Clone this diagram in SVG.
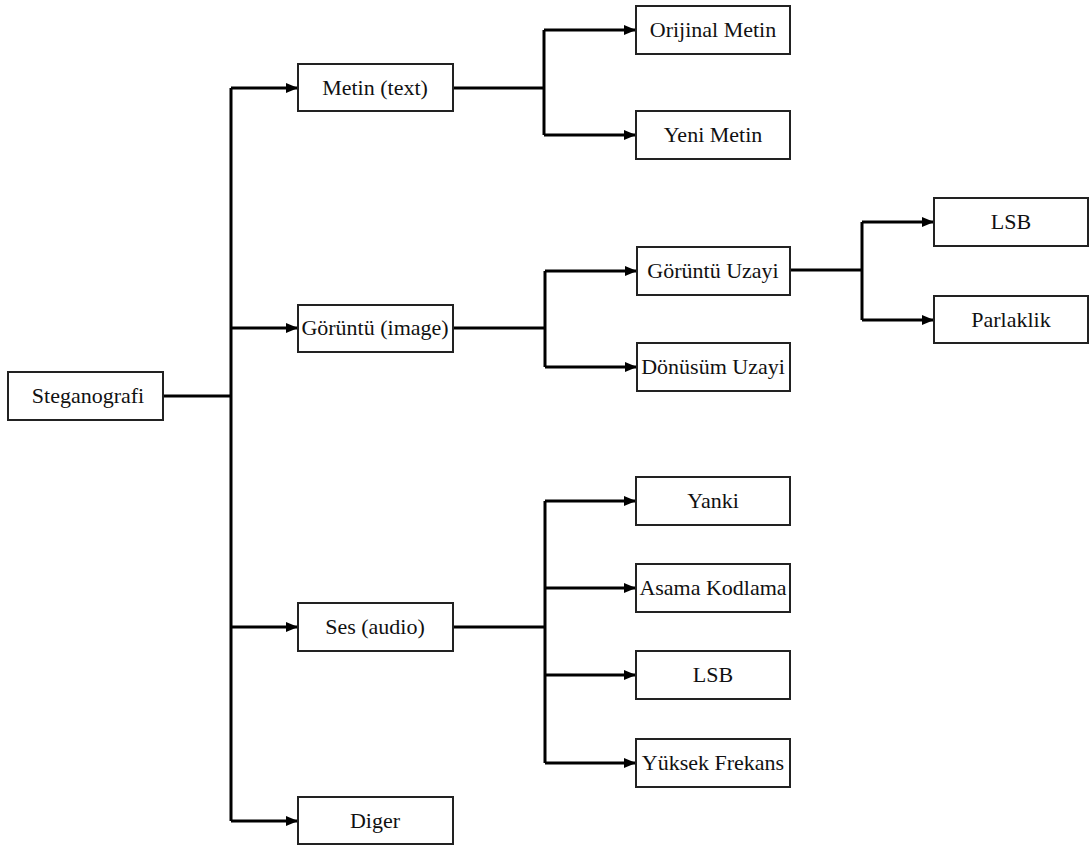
<svg xmlns="http://www.w3.org/2000/svg" width="1091" height="845" viewBox="0 0 1091 845">
<style>
.box{fill:#fff;stroke:#222;stroke-width:2}
.lbl{font-family:'Liberation Serif','Times New Roman',Times,serif;font-size:22px;fill:#111;text-anchor:middle}
.c{fill:none;stroke:#000;stroke-width:3}
</style>
<defs>
<marker id="ah" markerWidth="12" markerHeight="10" refX="11" refY="5" orient="auto" markerUnits="userSpaceOnUse">
<path d="M0,0 L12,5 L0,10 Z" fill="#000"/>
</marker>
</defs>
<rect width="1091" height="845" fill="#fff"/>
<g id="connectors">
<path class="c" d="M163,396 H231"/>
<path class="c" d="M231,88 V821"/>
<path class="c" d="M231,88 H297" marker-end="url(#ah)"/>
<path class="c" d="M231,328 H297" marker-end="url(#ah)"/>
<path class="c" d="M231,627 H297" marker-end="url(#ah)"/>
<path class="c" d="M231,821 H297" marker-end="url(#ah)"/>
<path class="c" d="M453,88 H544"/>
<path class="c" d="M544,30 V135"/>
<path class="c" d="M544,30 H635" marker-end="url(#ah)"/>
<path class="c" d="M544,135 H635" marker-end="url(#ah)"/>
<path class="c" d="M453,328 H545"/>
<path class="c" d="M545,271 V367"/>
<path class="c" d="M545,271 H636" marker-end="url(#ah)"/>
<path class="c" d="M545,367 H636" marker-end="url(#ah)"/>
<path class="c" d="M790,270 H862"/>
<path class="c" d="M862,222 V320"/>
<path class="c" d="M862,222 H933" marker-end="url(#ah)"/>
<path class="c" d="M862,320 H933" marker-end="url(#ah)"/>
<path class="c" d="M453,627 H545"/>
<path class="c" d="M545,501 V763"/>
<path class="c" d="M545,501 H635" marker-end="url(#ah)"/>
<path class="c" d="M545,588 H635" marker-end="url(#ah)"/>
<path class="c" d="M545,675 H635" marker-end="url(#ah)"/>
<path class="c" d="M545,763 H635" marker-end="url(#ah)"/>
</g>
<g id="n-steganografi"><rect class="box" x="8" y="372" width="155" height="48"/><text class="lbl" x="88" y="403">Steganografi</text></g>
<g id="n-metin"><rect class="box" x="298" y="64" width="155" height="47"/><text class="lbl" x="375" y="95">Metin (text)</text></g>
<g id="n-goruntu"><rect class="box" x="298" y="305" width="155" height="47"/><text class="lbl" x="375" y="335">Görüntü (image)</text></g>
<g id="n-ses"><rect class="box" x="298" y="603" width="155" height="48"/><text class="lbl" x="375" y="634">Ses (audio)</text></g>
<g id="n-diger"><rect class="box" x="298" y="797" width="155" height="47"/><text class="lbl" x="375" y="828">Diger</text></g>
<g id="n-orijinal"><rect class="box" x="636" y="6" width="154" height="48"/><text class="lbl" x="713" y="37">Orijinal Metin</text></g>
<g id="n-yeni"><rect class="box" x="636" y="111" width="154" height="48"/><text class="lbl" x="713" y="142">Yeni Metin</text></g>
<g id="n-guzayi"><rect class="box" x="637" y="247" width="153" height="48"/><text class="lbl" x="713" y="278">Görüntü Uzayi</text></g>
<g id="n-duzayi"><rect class="box" x="637" y="343" width="153" height="48"/><text class="lbl" x="713" y="374">Dönüsüm Uzayi</text></g>
<g id="n-lsb1"><rect class="box" x="934" y="198" width="154" height="48"/><text class="lbl" x="1011" y="229">LSB</text></g>
<g id="n-parlaklik"><rect class="box" x="934" y="296" width="154" height="47"/><text class="lbl" x="1011" y="327">Parlaklik</text></g>
<g id="n-yanki"><rect class="box" x="636" y="477" width="154" height="48"/><text class="lbl" x="713" y="508">Yanki</text></g>
<g id="n-asama"><rect class="box" x="636" y="564" width="154" height="48"/><text class="lbl" x="713" y="595">Asama Kodlama</text></g>
<g id="n-lsb2"><rect class="box" x="636" y="651" width="154" height="48"/><text class="lbl" x="713" y="682">LSB</text></g>
<g id="n-yuksek"><rect class="box" x="636" y="739" width="154" height="48"/><text class="lbl" x="713" y="770">Yüksek Frekans</text></g>
</svg>
